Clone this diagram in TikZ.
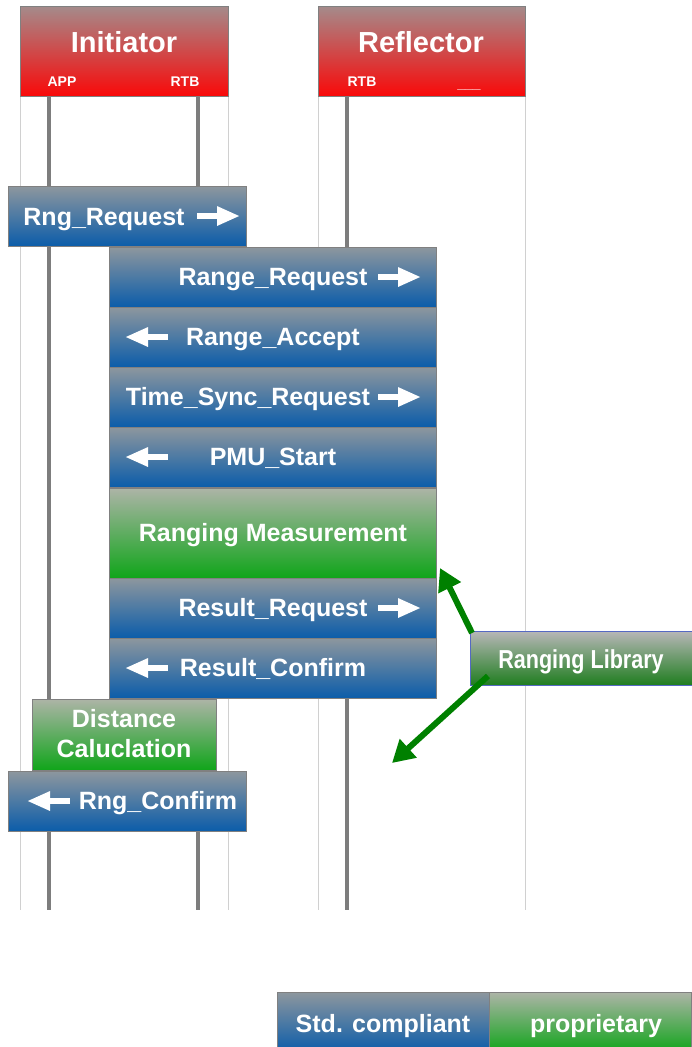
\documentclass[tikz,border=0pt]{standalone}
\usepackage{fontspec}
\setmainfont{Liberation Sans}
\usetikzlibrary{arrows.meta}
\definecolor{redtop}{RGB}{165,138,138}
\definecolor{redbot}{RGB}{250,8,8}
\definecolor{bluetop}{RGB}{140,150,158}
\definecolor{bluebot}{RGB}{10,92,170}
\definecolor{greentop}{RGB}{172,180,166}
\definecolor{greenbot}{RGB}{15,165,25}
\definecolor{libtop}{RGB}{182,182,182}
\definecolor{libbot}{RGB}{30,125,30}
\definecolor{libborder}{RGB}{85,105,195}
\definecolor{boxgray}{RGB}{128,128,128}
\definecolor{lifegray}{RGB}{125,125,125}
\definecolor{thingray}{RGB}{208,208,208}
\definecolor{arrowgreen}{RGB}{0,128,0}
\begin{document}
\begin{tikzpicture}[x=1pt,y=-1pt,
  box/.style={draw=boxgray, line width=1.3pt, anchor=north west, inner sep=0pt},
  hdr/.style={box, top color=redtop, bottom color=redbot, minimum width=208pt, minimum height=90pt},
  msg/.style={box, top color=bluetop, bottom color=bluebot, minimum height=60pt},
  prop/.style={box, top color=greentop, bottom color=greenbot},
  txt/.style={text=white, font=\bfseries\fontsize{25}{30}\selectfont, inner sep=0pt, anchor=base},
  htxt/.style={text=white, font=\bfseries\fontsize{29}{32}\selectfont, inner sep=0pt, anchor=base},
  stxt/.style={text=white, font=\bfseries\fontsize{14}{16}\selectfont, inner sep=0pt, anchor=base},
  warrow/.style={white, line width=6pt, -{Triangle[length=23pt,width=18pt]}},
  garrow/.style={arrowgreen, line width=6pt, -{Triangle[length=22pt,width=24pt]}},
  thin/.style={thingray, line width=1pt},
  life/.style={lifegray, line width=4pt}
]
\useasboundingbox (0,0) rectangle (691,1047);
% thin boundaries
\draw[thin] (20,96) -- (20,910);
\draw[thin] (228,96) -- (228,910);
\draw[thin] (318,96) -- (318,910);
\draw[thin] (525,96) -- (525,910);
% lifelines
\coordinate (appTop) at (49,96);   \coordinate (appBot) at (49,910);
\coordinate (rtbTop) at (198,96);  \coordinate (rtbBot) at (198,910);
\coordinate (refTop) at (347,96);  \coordinate (refBot) at (347,910);
\draw[life] (appTop) -- (appBot);
\draw[life] (rtbTop) -- (rtbBot);
\draw[life] (refTop) -- (refBot);
% headers
\node[hdr] (init) at (20,6) {};
\node[hdr, minimum width=207pt] (refl) at (318,6) {};
\node[htxt] (initT) at (124,52) {Initiator};
\node[htxt] (reflT) at (421,52) {Reflector};
\node[stxt] (appL) at (62,86) {APP};
\node[stxt] (rtbL) at (185,86) {RTB};
\node[stxt] (rtbR) at (362,86) {RTB};
\node[stxt] (blank) at (469,88) {\_\_\_};
% messages
\node[msg, minimum width=238pt] (rngreq) at (8,186) {};
\node[txt] (rngreqT) at (104,225) {Rng\_Request};
\draw[warrow] (197,216) -- (240,216);

\node[msg, minimum width=327pt] (rangereq) at (109,247) {};
\node[txt] (rangereqT) at (273,285) {Range\_Request};
\draw[warrow] (378,277) -- (421,277);

\node[msg, minimum width=327pt] (rangeacc) at (109,307) {};
\node[txt] (rangeaccT) at (273,345) {Range\_Accept};
\draw[warrow] (168,337) -- (125,337);

\node[msg, minimum width=327pt] (tsync) at (109,367) {};
\node[txt] (tsyncT) at (248,405) {Time\_Sync\_Request};
\draw[warrow] (378,397) -- (421,397);

\node[msg, minimum width=327pt] (pmu) at (109,427) {};
\node[txt] (pmuT) at (273,465) {PMU\_Start};
\draw[warrow] (168,457) -- (125,457);

\node[prop, minimum width=327pt, minimum height=90pt] (meas) at (109,488) {};
\node[txt] (measT) at (273,541) {Ranging Measurement};

\node[msg, minimum width=327pt] (resreq) at (109,578) {};
\node[txt] (resreqT) at (273,616) {Result\_Request};
\draw[warrow] (378,608) -- (421,608);

\node[msg, minimum width=327pt] (resconf) at (109,638) {};
\node[txt] (resconfT) at (273,676) {Result\_Confirm};
\draw[warrow] (168,668) -- (125,668);

\node[prop, minimum width=184pt, minimum height=71pt] (dist) at (32,699) {};
\node[txt] (distT1) at (124,727) {Distance};
\node[txt] (distT2) at (124,757) {Caluclation};

\node[msg, minimum width=238pt] (rngconf) at (8,771) {};
\node[txt] (rngconfT) at (158,809) {Rng\_Confirm};
\draw[warrow] (70,801) -- (27,801);

% ranging library
\node[box, draw=libborder, top color=libtop, bottom color=libbot, minimum width=240pt, minimum height=54pt] (lib) at (470,631) {};
\node[text=white, font=\bfseries\fontsize{26}{30}\selectfont, inner sep=0pt, anchor=base, xscale=0.83] (libT) at (581,668) {Ranging Library};
\coordinate (libA) at (472,633);
\coordinate (libB) at (488,676);
\coordinate (measTip) at (440,568);
\coordinate (freeTip) at (392,763);
\draw[garrow] (libA) -- (measTip);
\draw[garrow] (libB) -- (freeTip);

% legend
\node[box, top color=bluetop, bottom color=bluebot, minimum width=212pt, minimum height=60pt] (legstd) at (277,992) {};
\node[box, top color=greentop, bottom color=greenbot, minimum width=202pt, minimum height=60pt] (legprop) at (489,992) {};
\node[txt] (legstdT) at (383,1032) {Std. compliant};
\node[txt] (legpropT) at (596,1032) {proprietary};
\end{tikzpicture}
\end{document}
